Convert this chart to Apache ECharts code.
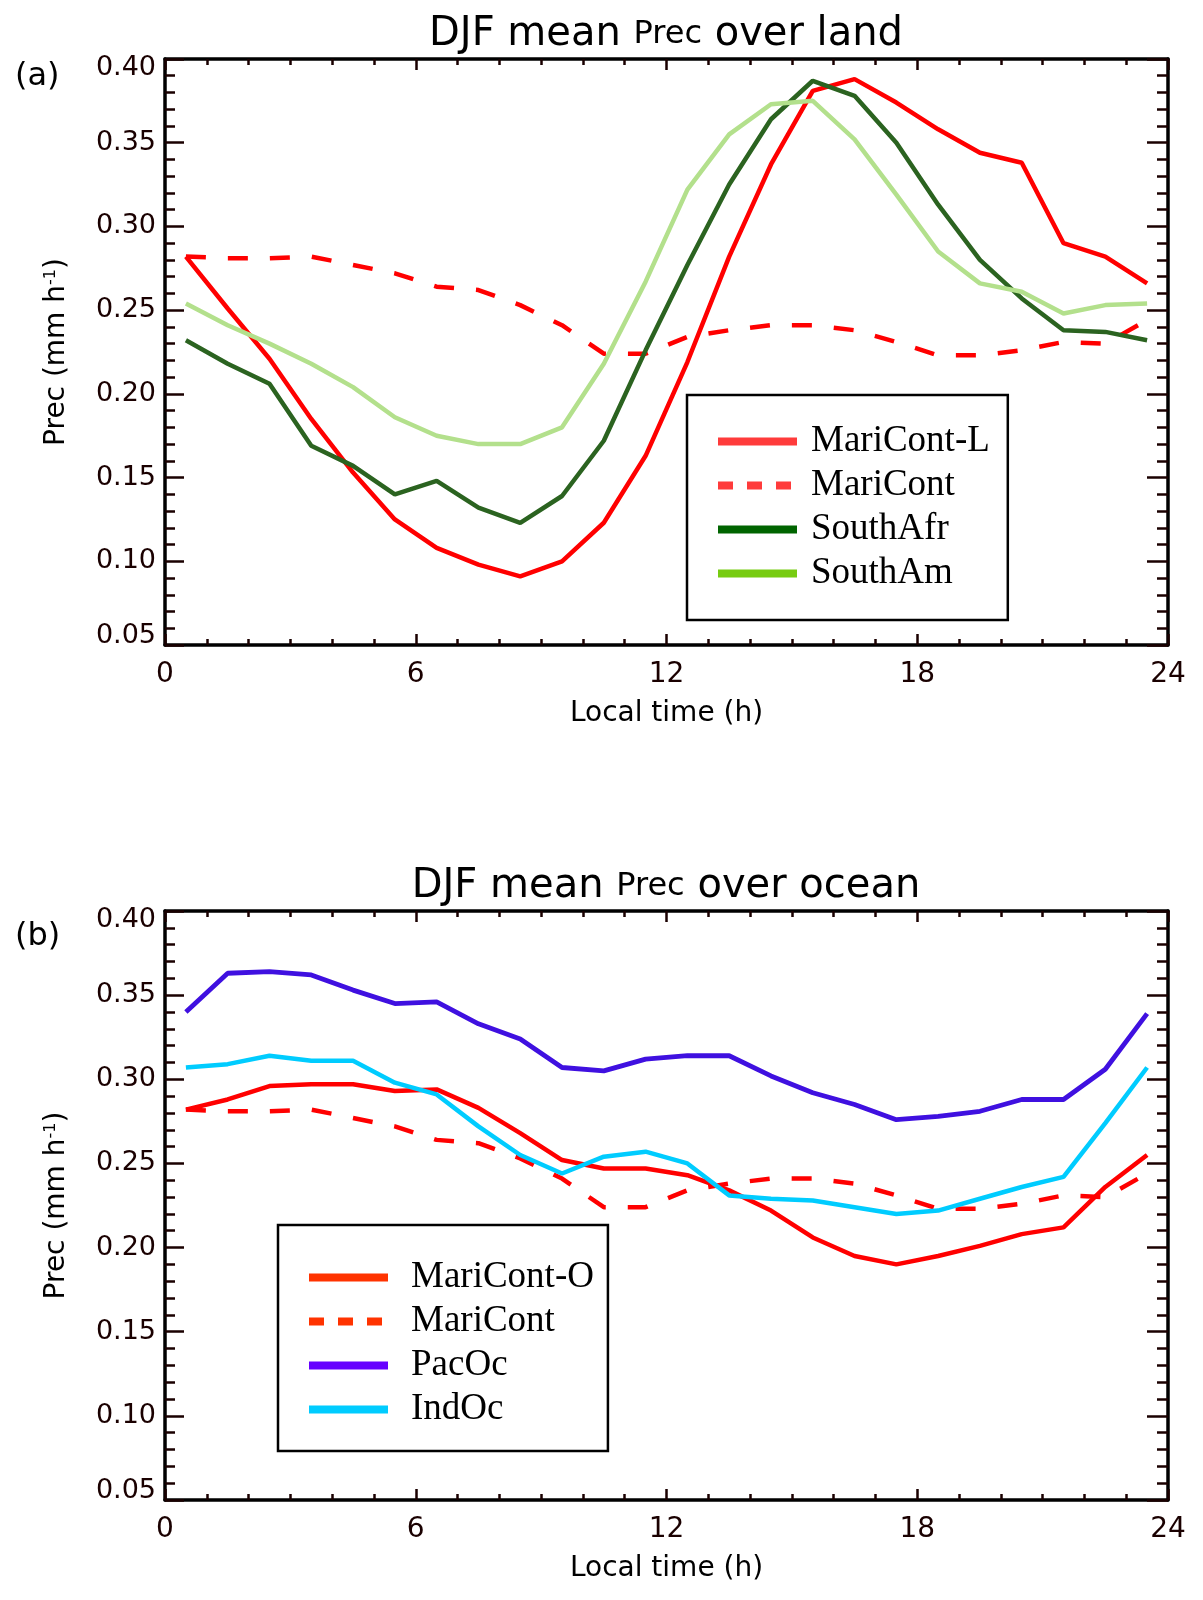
<!DOCTYPE html>
<html>
<head>
<meta charset="utf-8">
<script src="https://cdn.jsdelivr.net/npm/echarts@6/dist/echarts.min.js"></script>
<style>
html,body{margin:0;padding:0;background:#fff;}
#chart{width:1203px;height:1600px;}
</style>
</head>
<body>
<div id="chart"></div>
<script>
// ---------- data ----------
const hours = [0.5, 1.5, 2.5, 3.5, 4.5, 5.5, 6.5, 7.5, 8.5, 9.5, 10.5, 11.5,
               12.5, 13.5, 14.5, 15.5, 16.5, 17.5, 18.5, 19.5, 20.5, 21.5, 22.5, 23.5];

const xTicks = [0, 6, 12, 18, 24];
const yTicks = [0.05, 0.10, 0.15, 0.20, 0.25, 0.30, 0.35, 0.40];

// panel (a): over land
const mariContL = [0.282, 0.251, 0.221, 0.185, 0.153, 0.125, 0.108, 0.098, 0.091, 0.100, 0.123, 0.163,
                   0.219, 0.282, 0.337, 0.381, 0.388, 0.374, 0.358, 0.344, 0.338, 0.290, 0.282, 0.266];
const mariCont  = [0.282, 0.281, 0.281, 0.282, 0.277, 0.272, 0.264, 0.262, 0.253, 0.241, 0.224, 0.224,
                   0.234, 0.238, 0.241, 0.241, 0.238, 0.231, 0.223, 0.223, 0.226, 0.231, 0.230, 0.244];
const southAfr  = [0.232, 0.218, 0.206, 0.169, 0.157, 0.140, 0.148, 0.132, 0.123, 0.139, 0.172, 0.226,
                   0.277, 0.325, 0.364, 0.387, 0.378, 0.350, 0.313, 0.280, 0.257, 0.238, 0.237, 0.232];
const southAm   = [0.254, 0.241, 0.230, 0.218, 0.204, 0.186, 0.175, 0.170, 0.170, 0.180, 0.218, 0.267,
                   0.322, 0.355, 0.373, 0.375, 0.352, 0.319, 0.285, 0.266, 0.261, 0.248, 0.253, 0.254];

// panel (b): over ocean
const mariContO = [0.282, 0.288, 0.296, 0.297, 0.297, 0.293, 0.294, 0.283, 0.268, 0.252, 0.247, 0.247,
                   0.243, 0.234, 0.222, 0.206, 0.195, 0.190, 0.195, 0.201, 0.208, 0.212, 0.236, 0.255];
const pacOc     = [0.340, 0.363, 0.364, 0.362, 0.353, 0.345, 0.346, 0.333, 0.324, 0.307, 0.305, 0.312,
                   0.314, 0.314, 0.302, 0.292, 0.285, 0.276, 0.278, 0.281, 0.288, 0.288, 0.306, 0.339];
const indOc     = [0.307, 0.309, 0.314, 0.311, 0.311, 0.298, 0.291, 0.272, 0.255, 0.244, 0.254, 0.257,
                   0.250, 0.231, 0.229, 0.228, 0.224, 0.220, 0.222, 0.229, 0.236, 0.242, 0.274, 0.307];

// ---------- helpers ----------
const SANS = 'DejaVu Sans';
const SERIF = 'Liberation Serif';
const pair = vals => hours.map((h, i) => [h, vals[i]]);

const grids = [
  {left: 165, right: 35, top: 59, height: 586},
  {left: 165, right: 35, top: 911, height: 589}
];

function xAxes(gi) {
  const common = {
    type: 'value', gridIndex: gi, min: xTicks[0], max: xTicks[xTicks.length - 1], interval: 6,
    splitLine: {show: false},
    axisLine: {show: true, onZero: false, lineStyle: {color: '#000', width: 3.5}},
    axisTick: {show: true, inside: true, length: 11, lineStyle: {color: '#1a0000', width: 2.5}},
    minorTick: {show: true, splitNumber: 6, length: 6, lineStyle: {color: '#1a0000', width: 2.5}},
    minorSplitLine: {show: false}
  };
  return [
    Object.assign({}, common, {
      position: 'bottom',
      name: 'Local time (h)', nameLocation: 'middle', nameGap: 55,
      nameTextStyle: {fontFamily: SANS, fontSize: 28, color: '#000'},
      axisLabel: {show: true, margin: 16, fontFamily: SANS, fontSize: 28, color: '#1a0000'}
    }),
    Object.assign({}, common, {position: 'top', axisLabel: {show: false}})
  ];
}

function yAxes(gi) {
  const common = {
    type: 'value', gridIndex: gi, min: yTicks[0], max: yTicks[yTicks.length - 1], interval: 0.05,
    splitLine: {show: false},
    axisLine: {show: true, onZero: false, lineStyle: {color: '#000', width: 3.5}},
    minorSplitLine: {show: false}
  };
  return [
    Object.assign({}, common, {
      position: 'left',
      name: '{a|Prec (mm h}{s|-1}{a|)}', nameLocation: 'middle', nameGap: 94,
      nameTextStyle: {
        rich: {
          a: {fontFamily: SANS, fontSize: 28, color: '#000'},
          s: {fontFamily: SANS, fontSize: 16, color: '#000', verticalAlign: 'top'}
        }
      },
      axisTick: {show: true, inside: true, length: 19, lineStyle: {color: '#1a0000', width: 2.5}},
      minorTick: {show: true, splitNumber: 5, length: 10, lineStyle: {color: '#1a0000', width: 2.5}},
      axisLabel: {
        show: true, margin: 9, fontFamily: SANS, fontSize: 27, lineHeight: 18, color: '#1a0000',
        formatter: v => v.toFixed(2),
        verticalAlignMaxLabel: 'top', verticalAlignMinLabel: 'bottom'
      }
    }),
    Object.assign({}, common, {
      position: 'right',
      axisTick: {show: true, inside: true, length: 21, lineStyle: {color: '#1a0000', width: 2.5}},
      minorTick: {show: true, splitNumber: 5, length: 11, lineStyle: {color: '#1a0000', width: 2.5}},
      axisLabel: {show: false}
    })
  ];
}

function line(name, vals, gi, color, width, dashed) {
  return {
    type: 'line', name: name, data: pair(vals),
    xAxisIndex: gi * 2, yAxisIndex: gi * 2,
    symbol: 'none', smooth: false, silent: true, animation: false,
    lineStyle: {color: color, width: width, type: dashed ? [20, 22] : 'solid'},
    itemStyle: {color: color},
    z: 3
  };
}

const series = [
  line('MariCont-L', mariContL, 0, '#ff0000', 4.5, false),
  line('MariCont', mariCont, 0, '#ff0000', 4.5, true),
  line('SouthAfr', southAfr, 0, '#2b6320', 4.5, false),
  line('SouthAm', southAm, 0, '#b3e08c', 4.5, false),
  line('MariCont-O', mariContO, 1, '#ff0000', 4.5, false),
  line('MariCont', mariCont, 1, '#ff0000', 4.5, true),
  line('PacOc', pacOc, 1, '#3f10e0', 4.8, false),
  line('IndOc', indOc, 1, '#00ccff', 4.5, false)
];

function legItem(name, color, dashed) {
  return {
    name: name,
    itemStyle: {color: color, opacity: 0, borderWidth: 0},
    lineStyle: {color: color, width: 8, opacity: 1, type: dashed ? [15, 14] : 'solid'}
  };
}

function legend(left, top, padding, textPad, items) {
  return {
    orient: 'vertical', left: left, top: top,
    padding: padding,
    itemWidth: 79, itemHeight: 36, itemGap: 7,
    borderColor: '#000', borderWidth: 2.5, backgroundColor: '#fff',
    selectedMode: false,
    textStyle: {fontFamily: SERIF, fontSize: 37, color: '#000', lineHeight: 36, padding: [0, 0, 0, textPad]},
    data: items
  };
}

const legends = [
  legend(687, 395, [28, 18, 28, 27], 9, [
    legItem('MariCont-L', '#ff3b3b', false),
    legItem('MariCont', '#ff3b3b', true),
    legItem('SouthAfr', '#006400', false),
    legItem('SouthAm', '#77cc11', false)
  ]),
  legend(278, 1225, [34, 14, 23, 27], 18, [
    legItem('MariCont-O', '#ff3300', false),
    legItem('MariCont', '#ff3300', true),
    legItem('PacOc', '#6600ff', false),
    legItem('IndOc', '#00ccff', false)
  ])
];

function titleText(y, tail) {
  return {
    type: 'text', x: 666, y: y, z: 10,
    style: {
      text: '{a|DJF mean }{b|Prec}{a| ' + tail + '}',
      align: 'center', verticalAlign: 'middle',
      rich: {
        a: {fontFamily: SANS, fontSize: 40, fill: '#000', verticalAlign: 'middle'},
        b: {fontFamily: SANS, fontSize: 32, fill: '#000', verticalAlign: 'middle'}
      }
    }
  };
}

function tagText(y, t) {
  return {
    type: 'text', x: 15, y: y, z: 10,
    style: {text: t, fontFamily: SANS, fontSize: 32, fill: '#000', align: 'left', verticalAlign: 'middle'}
  };
}

const chart = echarts.init(document.getElementById('chart'), null, {renderer: 'canvas'});
chart.setOption({
  animation: false,
  backgroundColor: '#fff',
  grid: grids,
  xAxis: xAxes(0).concat(xAxes(1)),
  yAxis: yAxes(0).concat(yAxes(1)),
  legend: legends,
  series: series,
  graphic: [
    titleText(35, 'over land'),
    titleText(887, 'over ocean'),
    tagText(77, '(a)'),
    tagText(937, '(b)')
  ]
});
</script>
</body>
</html>
